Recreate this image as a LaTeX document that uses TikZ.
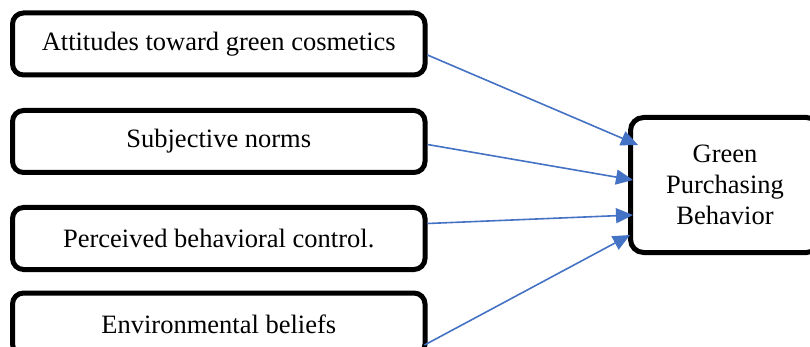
\documentclass[tikz,border=0pt]{standalone}
\usepackage{fontspec}
\setmainfont{Liberation Serif}
\usetikzlibrary{arrows.meta}
\definecolor{flowblue}{RGB}{68,114,196}

\begin{document}
\begin{tikzpicture}[x=1pt,y=-1pt,
  factor/.style={draw,line width=5pt,rounded corners=11pt,minimum width=412.5pt,minimum height=62pt,inner sep=0pt,font=\fontsize{26.5}{31}\selectfont},
  outcome/.style={draw,line width=5pt,rounded corners=13pt,minimum width=189pt,minimum height=135pt,inner sep=0pt,align=center,font=\fontsize{26.5}{31}\selectfont},
  flow/.style={draw=flowblue,line width=1.6pt,-{Triangle[length=17pt,width=15pt]}}]
\useasboundingbox (0,0) rectangle (810,347);
%% nodes
\node[factor] (att) at (218.75,44) {Attitudes toward green cosmetics};
\node[factor] (sn) at (218.75,141.5) {Subjective norms};
\node[factor] (pbc) at (218.75,238.5) {Perceived behavioral control.};
\node[factor] (env) at (218.75,324) {Environmental beliefs};
\node[outcome] (gpb) at (725,185) {Green\\Purchasing\\Behavior};
%%% edges
\draw[flow] ([yshift=-11pt]att.east) -- ([shift={(10pt,40pt)}]gpb.west);
\draw[flow] ([yshift=-3pt]sn.east) -- ([shift={(5pt,5pt)}]gpb.west);
\draw[flow] ([yshift=15pt]pbc.east) -- ([shift={(5pt,-30pt)}]gpb.west);
\draw[flow] ([shift={(-3pt,-21pt)}]env.east) -- ([shift={(2pt,-50pt)}]gpb.west);
\end{tikzpicture}
\end{document}
